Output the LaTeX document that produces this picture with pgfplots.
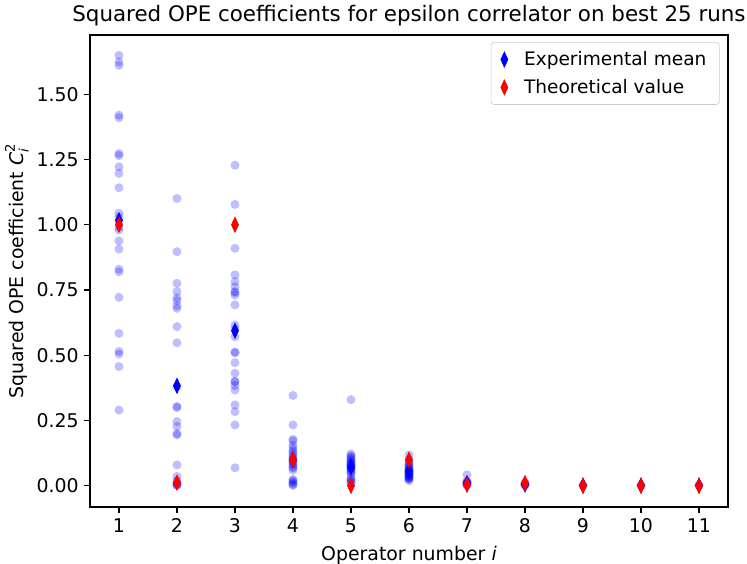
\documentclass[border=0pt]{standalone}
\usepackage{amsmath}
\usepackage{fontspec}
\setmainfont{DejaVu Sans}
\usepackage{pgfplots}
\usepackage{pgfplotstable}
\pgfplotsset{compat=1.18}

\pgfplotstableread{
x y
1 1.649
1 1.624
1 1.611
1 1.420
1 1.410
1 1.273
1 1.265
1 1.222
1 1.197
1 1.142
1 1.044
1 1.030
1 1.010
1 0.990
1 0.980
1 0.938
1 0.907
1 0.830
1 0.820
1 0.722
1 0.584
1 0.515
1 0.505
1 0.457
1 0.290
2 1.101
2 0.897
2 0.776
2 0.744
2 0.720
2 0.710
2 0.690
2 0.680
2 0.610
2 0.548
2 0.380
2 0.304
2 0.300
2 0.246
2 0.227
2 0.200
2 0.195
2 0.080
2 0.036
2 0.020
2 0.012
2 0.008
2 0.005
2 0.003
2 0.001
3 1.228
3 1.078
3 0.910
3 0.808
3 0.782
3 0.763
3 0.744
3 0.740
3 0.731
3 0.693
3 0.616
3 0.600
3 0.571
3 0.512
3 0.510
3 0.472
3 0.431
3 0.399
3 0.400
3 0.384
3 0.367
3 0.310
3 0.284
3 0.233
3 0.069
4 0.346
4 0.233
4 0.178
4 0.172
4 0.155
4 0.145
4 0.135
4 0.128
4 0.120
4 0.112
4 0.105
4 0.100
4 0.095
4 0.090
4 0.085
4 0.080
4 0.072
4 0.068
4 0.060
4 0.025
4 0.020
4 0.015
4 0.010
4 0.005
4 0.002
5 0.330
5 0.122
5 0.115
5 0.110
5 0.105
5 0.100
5 0.095
5 0.090
5 0.088
5 0.085
5 0.080
5 0.078
5 0.075
5 0.070
5 0.068
5 0.065
5 0.060
5 0.055
5 0.050
5 0.045
5 0.030
5 0.025
5 0.020
5 0.015
5 0.010
6 0.118
6 0.100
6 0.090
6 0.085
6 0.080
6 0.075
6 0.070
6 0.065
6 0.062
6 0.060
6 0.058
6 0.055
6 0.052
6 0.050
6 0.048
6 0.045
6 0.042
6 0.040
6 0.038
6 0.035
6 0.032
6 0.030
6 0.028
6 0.025
6 0.020
7 0.042
7 0.018
7 0.015
7 0.012
7 0.010
7 0.008
7 0.006
7 0.004
7 0.002
8 0.012
8 0.008
8 0.006
8 0.004
8 0.002
9 0.002
9 0.001
10 0.002
10 0.001
11 0.002
11 0.001
}\runs

\pgfplotstableread{
x y
1 1.017
2 0.383
3 0.594
4 0.100
5 0.072
6 0.055
7 0.010
8 0.005
9 0.001
10 0.001
11 0.001
}\means

\pgfplotstableread{
x y
1 1.000
2 0.012
3 1.000
4 0.100
5 0.000
6 0.100
7 0.004
8 0.010
9 0.000
10 0.000
11 0.000
}\theory

\begin{document}
\begin{tikzpicture}
\begin{axis}[
  name=ax,
  scale only axis,
  width=5.467in, height=4.045in,
  xmin=0.5, xmax=11.5,
  ymin=-0.0815, ymax=1.727,
  xtick={1,2,3,4,5,6,7,8,9,10,11},
  ytick={0,0.25,0.5,0.75,1.0,1.25,1.5},
  yticklabel style={/pgf/number format/.cd, fixed, fixed zerofill, precision=2},
  /pgf/number format/assume math mode=true,
  tick label style={font=\fontsize{11.7}{14}\selectfont},
  tick align=outside,
  xtick pos=bottom, ytick pos=left,
  major tick length=3.5pt,
  every tick/.style={black, line width=0.8pt},
  axis line style={line width=0.8pt},
  title={Squared OPE coefficients for epsilon correlator on best 25 runs},
  title style={font=\fontsize{13.25}{16}\selectfont, yshift=-4pt},
  xlabel={Operator number \textit{i}},
  ylabel={Squared OPE coefficient $\textit{C}_{\textit{i}}^{\text{2}}$},
  label style={font=\fontsize{11.7}{14}\selectfont},
  xlabel shift=1.5pt,
  ylabel shift=-2pt,
  legend style={at={(0.987,0.985)}, anchor=north east, draw=black!20, rounded corners=2pt,
    font=\fontsize{11.5}{14}\selectfont, inner xsep=6pt, inner ysep=3.5pt, row sep=3pt,
    column sep=8pt},
  legend cell align=left,
]
\addplot[only marks, mark=*, mark size=2.8pt, mark options={fill=blue, fill opacity=0.25, draw opacity=0}, forget plot] table[x=x,y=y] {\runs};
\addplot[only marks, mark=diamond*, mark size=4.7pt, mark options={xscale=0.62, fill=blue, draw=blue}] table[x=x,y=y] {\means};
\addlegendentry{Experimental mean}
\addplot[only marks, mark=diamond*, mark size=4.7pt, mark options={xscale=0.62, fill=red, draw=red}] table[x=x,y=y] {\theory};
\addlegendentry{Theoretical value}
\end{axis}
\pgfresetboundingbox
\path ([shift={(-0.771in,-0.48in)}]ax.south west) rectangle ([shift={(0.163in,0.30in)}]ax.north east);
\end{tikzpicture}
\end{document}
